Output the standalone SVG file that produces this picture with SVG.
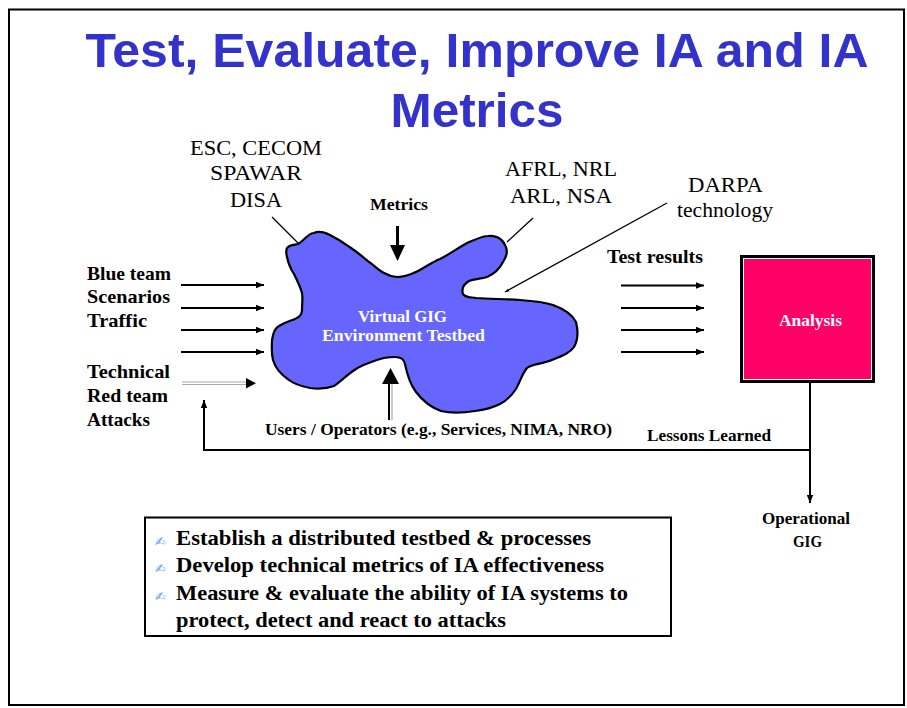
<svg xmlns="http://www.w3.org/2000/svg" width="907" height="708" viewBox="0 0 907 708">
<style>
.title{font-family:"Liberation Sans Narrow","Liberation Sans",Arial,sans-serif;font-weight:bold;font-size:49px;fill:#3333CC}
.org{font-family:"Liberation Serif","Times New Roman",serif;font-size:22px;fill:#000}
.lbl{font-family:"Liberation Serif","Times New Roman",serif;font-weight:bold;font-size:19.5px;fill:#000}
.sm{font-family:"Liberation Serif","Times New Roman",serif;font-weight:bold;font-size:17px;fill:#000}
.wt{font-family:"Liberation Serif","Times New Roman",serif;font-weight:bold;font-size:17px;fill:#fff}
.bul{font-family:"Liberation Serif","Times New Roman",serif;font-weight:bold;font-size:21px;fill:#000}
.pen{font-family:"DejaVu Sans",sans-serif;font-size:13px;fill:#6699ff}
.ln{stroke:#000;stroke-width:2;fill:none}
.thin{stroke:#000;stroke-width:1.3;fill:none}
</style>
<defs>
<marker id="ah" viewBox="0 0 10 10" refX="10" refY="5" markerWidth="4" markerHeight="4" orient="auto" markerUnits="strokeWidth">
<path d="M0,1 L10,5 L0,9 z" fill="#000"/>
</marker>
<marker id="ahs" viewBox="0 0 10 10" refX="10" refY="5" markerWidth="3.5" markerHeight="3.5" orient="auto" markerUnits="strokeWidth">
<path d="M0,1.5 L10,5 L0,8.5 z" fill="#000"/>
</marker>
</defs>
<rect x="0" y="0" width="907" height="708" fill="#fff"/>
<rect x="9" y="9.5" width="895" height="695.5" fill="none" stroke="#000" stroke-width="2"/>

<g id="title">
<text class="title" x="477" y="67" text-anchor="middle" textLength="783" lengthAdjust="spacingAndGlyphs">Test, Evaluate, Improve IA and IA</text>
<text class="title" x="477" y="127" text-anchor="middle" textLength="173" lengthAdjust="spacingAndGlyphs">Metrics</text>
</g>

<g id="testbed">
<path d="M287,248 C290,244 295,245 298,244 C305,240 308,233 314,233 C318,231 324,232 330,235 C340,240 345,244 351,248 C360,254 366,260 372,264 C378,269 385,276 397,277 C406,277 412,274 418,271 C426,267 432,262 440,259 C450,254 458,248 467,243 C475,240 482,236 488,236 C495,235 502,238 505,245 C508,250 507,256 503,262 C499,270 494,274 487,277 C480,279 474,279 469,281 C464,284 461,288 463,294 C466,298 470,297 476,298 C490,299 505,299 520,300 C534,301 544,302 553,305 C564,309 572,314 576,322 C578,330 578,340 574,347 C570,353 562,356 552,360 C542,364 532,364 527,368 C522,374 520,382 516,389 C512,395 506,401 500,404 C492,408 483,410 475,411 C462,413 450,413 441,411 C430,407 422,400 416,392 C410,384 407,374 405,364 C404,358 400,357 395,357 C388,357 382,358 377,360 C368,363 362,365 356,369 C348,374 341,381 334,386 C326,389 318,389 310,388 C300,386 294,384 289,380 C280,374 275,367 273,360 C271,352 272,345 272,340 C273,333 275,328 279,326 C285,322 290,321 295,319 C300,317 302,314 302,310 C302,303 303,298 302,293 C300,286 297,280 294,274 C290,268 288,262 287,257 C286,253 286,250 287,248 Z" fill="#6666FF" stroke="#000" stroke-width="2.2" stroke-linejoin="round"/>
<text class="wt" x="358" y="322" textLength="89" lengthAdjust="spacingAndGlyphs">Virtual GIG</text>
<text class="wt" x="322" y="341" textLength="163" lengthAdjust="spacingAndGlyphs">Environment Testbed</text>
</g>

<g id="analysis">
<rect x="741.5" y="256.5" width="132" height="125" fill="#FF0066" stroke="#000" stroke-width="3"/>
<rect x="743.5" y="258.5" width="128" height="121" fill="none" stroke="#fff" stroke-width="1"/>
<text class="wt" x="779" y="326" textLength="63" lengthAdjust="spacingAndGlyphs">Analysis</text>
</g>

<g id="org-left">
<text class="org" x="190" y="155" textLength="132" lengthAdjust="spacingAndGlyphs">ESC, CECOM</text>
<text class="org" x="210" y="180" textLength="92" lengthAdjust="spacingAndGlyphs">SPAWAR</text>
<text class="org" x="230" y="207" textLength="52" lengthAdjust="spacingAndGlyphs">DISA</text>
</g>
<g id="org-right">
<text class="org" x="505" y="176" textLength="112" lengthAdjust="spacingAndGlyphs">AFRL, NRL</text>
<text class="org" x="510" y="203" textLength="102" lengthAdjust="spacingAndGlyphs">ARL, NSA</text>
</g>
<g id="darpa">
<text class="org" x="688" y="192" textLength="75" lengthAdjust="spacingAndGlyphs">DARPA</text>
<text class="org" x="677" y="217" textLength="96" lengthAdjust="spacingAndGlyphs">technology</text>
</g>
<g id="metrics">
<text class="sm" x="370" y="210" textLength="58" lengthAdjust="spacingAndGlyphs">Metrics</text>
</g>
<g id="inputs">
<text class="lbl" x="87" y="280" textLength="84" lengthAdjust="spacingAndGlyphs">Blue team</text>
<text class="lbl" x="87" y="303" textLength="83" lengthAdjust="spacingAndGlyphs">Scenarios</text>
<text class="lbl" x="87" y="327" textLength="60" lengthAdjust="spacingAndGlyphs">Traffic</text>
<text class="lbl" x="87" y="378" textLength="83" lengthAdjust="spacingAndGlyphs">Technical</text>
<text class="lbl" x="87" y="402" textLength="81" lengthAdjust="spacingAndGlyphs">Red team</text>
<text class="lbl" x="87" y="426" textLength="63" lengthAdjust="spacingAndGlyphs">Attacks</text>
</g>
<g id="results">
<text class="lbl" x="607" y="263" textLength="96" lengthAdjust="spacingAndGlyphs">Test results</text>
</g>
<g id="users">
<text class="sm" x="265" y="435" textLength="347" lengthAdjust="spacingAndGlyphs">Users / Operators (e.g., Services,  NIMA, NRO)</text>
</g>
<g id="lessons">
<text class="sm" x="647" y="441" textLength="124" lengthAdjust="spacingAndGlyphs">Lessons Learned</text>
</g>
<g id="operational">
<text class="sm" x="762" y="524" textLength="88" lengthAdjust="spacingAndGlyphs">Operational</text>
<text class="sm" x="793" y="547" textLength="29" lengthAdjust="spacingAndGlyphs">GIG</text>
</g>

<g id="goals">
<rect x="145" y="517.5" width="526" height="118.5" fill="#fff" stroke="#000" stroke-width="2"/>
<text class="pen" x="155" y="546">✍</text>
<text class="pen" x="155" y="573">✍</text>
<text class="pen" x="155" y="601">✍</text>
<text class="bul" x="176" y="545" textLength="415" lengthAdjust="spacingAndGlyphs">Establish a distributed testbed  &amp; processes</text>
<text class="bul" x="176" y="572" textLength="428" lengthAdjust="spacingAndGlyphs">Develop technical metrics of IA effectiveness</text>
<text class="bul" x="176" y="600" textLength="452" lengthAdjust="spacingAndGlyphs">Measure &amp; evaluate the ability of IA systems to</text>
<text class="bul" x="176" y="627" textLength="330" lengthAdjust="spacingAndGlyphs">protect, detect and react to attacks</text>
</g>

<g id="connectors">
<line class="thin" x1="272" y1="217" x2="298" y2="243"/>
<line class="thin" x1="533" y1="218" x2="507" y2="242"/>
<line class="thin" x1="667" y1="203" x2="505" y2="292" marker-end="url(#ahs)"/>
<line x1="397.5" y1="226" x2="397.5" y2="249" stroke="#000" stroke-width="3"/>
<path d="M390,245 L405,245 L397.5,261 Z" fill="#000"/>
<line x1="389" y1="384" x2="389" y2="420" stroke="#000" stroke-width="2"/>
<line x1="392" y1="384" x2="392" y2="420" stroke="#999" stroke-width="1"/>
<path d="M382,384 L399,384 L390.5,368 Z" fill="#000"/>
<line class="ln" x1="181" y1="285" x2="264" y2="285" marker-end="url(#ah)"/>
<line class="ln" x1="181" y1="308" x2="264" y2="308" marker-end="url(#ah)"/>
<line class="ln" x1="181" y1="330" x2="264" y2="330" marker-end="url(#ah)"/>
<line class="ln" x1="181" y1="352" x2="264" y2="352" marker-end="url(#ah)"/>
<line x1="182" y1="382" x2="247" y2="382" stroke="#aaa" stroke-width="1"/>
<line x1="182" y1="384.5" x2="247" y2="384.5" stroke="#aaa" stroke-width="1"/>
<path d="M246,378 L256,383.3 L246,388.5 Z" fill="#000"/>
<line class="ln" x1="621" y1="285.5" x2="704" y2="285.5" marker-end="url(#ah)"/>
<line class="ln" x1="621" y1="308" x2="704" y2="308" marker-end="url(#ah)"/>
<line class="ln" x1="621" y1="330" x2="704" y2="330" marker-end="url(#ah)"/>
<line class="ln" x1="621" y1="352" x2="704" y2="352" marker-end="url(#ah)"/>
<line class="ln" x1="810" y1="382" x2="810" y2="503" marker-end="url(#ah)"/>
<polyline class="ln" points="810,450 204,450 204,400" marker-end="url(#ah)"/>
</g>
</svg>
